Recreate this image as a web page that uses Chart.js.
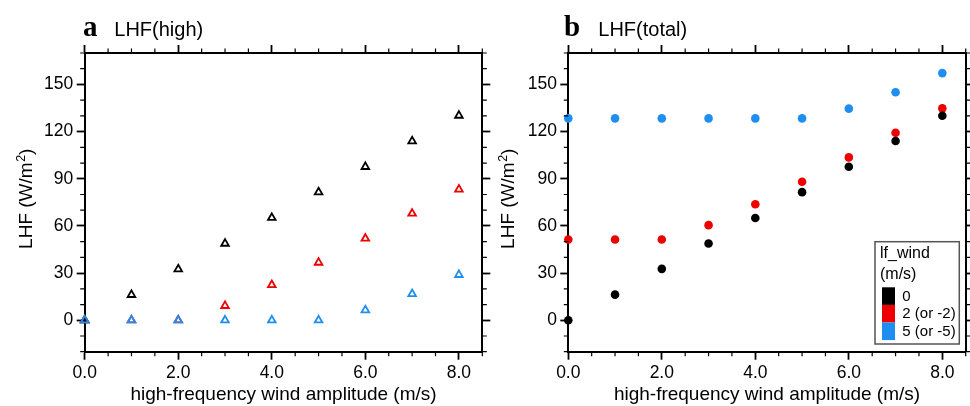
<!DOCTYPE html>
<html><head><meta charset="utf-8">
<script src="https://cdn.jsdelivr.net/npm/chart.js@4.4.1/dist/chart.umd.min.js"></script>
<style>
html,body{margin:0;padding:0;background:#fff;}
#wrap{position:relative;width:970px;height:406px;overflow:hidden;background:#fff;}
canvas{position:absolute;top:0;}
#ca{left:0;}
#cb{left:480px;}
</style></head><body>
<div id="wrap">
<canvas id="ca" width="500" height="406" style="width:500px;height:406px"></canvas>
<canvas id="cb" width="490" height="406" style="width:490px;height:406px"></canvas>
</div>
<script>
// ---------- data ----------
const windAmplitude = [0, 1, 2, 3, 4, 5, 6, 7, 8];
const lhfHighLf0 = [0, 16.2, 32.5, 48.8, 65.2, 81.5, 97.6, 113.9, 130.2];
const lhfHighLf2 = [0, 0, 0, 9.2, 22.5, 36.7, 52.0, 67.9, 83.2];
const lhfHighLf5 = [0, 0, 0, 0, 0, 0, 6.4, 16.8, 28.9];
const lhfTotalLf0 = [0, 16.3, 32.7, 48.8, 65.0, 81.5, 97.6, 114.0, 130.1];
const lhfTotalLf2 = [51.4, 51.4, 51.4, 60.5, 73.8, 88.1, 103.6, 119.3, 134.8];
const lhfTotalLf5 = [128.4, 128.4, 128.4, 128.4, 128.4, 128.4, 134.6, 145.0, 157.2];
const seriesLabels = ['0', '2 (or -2)', '5 (or -5)'];
const legendTitle = ['lf_wind', '(m/s)'];
const xTickValues = [0, 2, 4, 6, 8];
const yTickValues = [0, 30, 60, 90, 120, 150];
const xRange = [0, 8.5];
const yRange = [-20, 170];
const xMinorStep = 0.5;
const yMinorStep = 10;
const panelLetters = ['a', 'b'];
const panelTitles = ['LHF(high)', 'LHF(total)'];
const xAxisTitle = 'high-frequency wind amplitude (m/s)';
const yAxisTitleParts = ['LHF (W/m', '2', ')'];

// ---------- style ----------
const seriesColors = ['#000000', '#ee0000', '#1e8ef0'];
const drawOrder = [1, 2, 0];
const SANS = '"Liberation Sans", Arial, Helvetica, sans-serif';
const SERIF = '"Liberation Serif", "Times New Roman", serif';

const minorTicks = {
  id: 'minorTicks',
  afterDraw(chart) {
    const ctx = chart.ctx, a = chart.chartArea;
    const sx = chart.scales.x, sy = chart.scales.y;
    const L = 4.5;
    ctx.save();
    ctx.strokeStyle = '#000';
    ctx.lineWidth = 1.2;
    ctx.beginPath();
    const nx = Math.round((xRange[1] - xRange[0]) / xMinorStep);
    for (let i = 0; i <= nx; i++) {
      const v = xRange[0] + i * xMinorStep;
      if (xTickValues.some(t => Math.abs(t - v) < 1e-9)) continue;
      const p = sx.getPixelForValue(v);
      ctx.moveTo(p, a.bottom); ctx.lineTo(p, a.bottom + L);
      ctx.moveTo(p, a.top); ctx.lineTo(p, a.top - L);
    }
    const ny = Math.round((yRange[1] - yRange[0]) / yMinorStep);
    for (let i = 0; i <= ny; i++) {
      const v = yRange[0] + i * yMinorStep;
      if (yTickValues.some(t => Math.abs(t - v) < 1e-9)) continue;
      const p = sy.getPixelForValue(v);
      ctx.moveTo(a.left, p); ctx.lineTo(a.left - L, p);
      ctx.moveTo(a.right, p); ctx.lineTo(a.right + L, p);
    }
    ctx.stroke();
    ctx.restore();
  }
};

const panelTitle = {
  id: 'panelTitle',
  afterDraw(chart, args, opts) {
    const ctx = chart.ctx;
    ctx.save();
    ctx.fillStyle = '#000';
    ctx.textBaseline = 'alphabetic';
    ctx.textAlign = 'left';
    ctx.font = 'bold 29px ' + SERIF;
    ctx.fillText(opts.letter, opts.letterX, opts.baseline);
    ctx.font = '20px ' + SANS;
    ctx.fillText(opts.title, opts.titleX, opts.baseline);
    // y-axis title with superscript
    const big = '19px ' + SANS, small = '12.5px ' + SANS;
    ctx.font = big;
    const w0 = ctx.measureText(yAxisTitleParts[0]).width;
    const w2 = ctx.measureText(yAxisTitleParts[2]).width;
    ctx.font = small;
    const w1 = ctx.measureText(yAxisTitleParts[1]).width;
    const total = w0 + w1 + w2;
    ctx.translate(opts.yTitleX, opts.yTitleCenter);
    ctx.rotate(-Math.PI / 2);
    let x = -total / 2;
    ctx.font = big;
    ctx.fillText(yAxisTitleParts[0], x, 0); x += w0;
    ctx.font = small;
    ctx.fillText(yAxisTitleParts[1], x + 0.5, -7.5); x += w1 + 0.5;
    ctx.font = big;
    ctx.fillText(yAxisTitleParts[2], x, 0);
    ctx.restore();
  }
};

const boxLegend = {
  id: 'boxLegend',
  afterDraw(chart, args, opts) {
    if (!opts.show) return;
    const ctx = chart.ctx;
    const bx = opts.x, by = opts.y, bw = opts.w, bh = opts.h;
    ctx.save();
    ctx.fillStyle = '#fff';
    ctx.fillRect(bx, by, bw, bh);
    ctx.strokeStyle = '#555';
    ctx.lineWidth = 1.5;
    ctx.strokeRect(bx, by, bw, bh);
    ctx.fillStyle = '#000';
    ctx.textAlign = 'left';
    ctx.textBaseline = 'middle';
    ctx.font = '16px ' + SANS;
    ctx.fillText(legendTitle[0], bx + 5, by + 12);
    ctx.fillText(legendTitle[1], bx + 5, by + 32.5);
    ctx.font = '15px ' + SANS;
    const rowH = 17.6;
    const top = by + 45.6;
    seriesLabels.forEach((lab, i) => {
      ctx.fillStyle = seriesColors[i];
      ctx.fillRect(bx + 7, top + i * rowH, 13, rowH);
      ctx.fillStyle = '#000';
      ctx.fillText(lab, bx + 27.3, top + i * rowH + rowH / 2 + 0.5);
    });
    ctx.restore();
  }
};

function makePanel(canvasId, series, markerStyle, geom, idx) {
  const datasets = series.map((vals, i) => ({
    label: seriesLabels[i],
    data: windAmplitude.map((x, k) => ({ x: x, y: vals[k] })),
    pointStyle: markerStyle.style,
    pointRadius: markerStyle.radius,
    pointBorderWidth: markerStyle.border,
    pointBorderColor: seriesColors[i],
    pointBackgroundColor: markerStyle.filled ? seriesColors[i] : 'rgba(0,0,0,0)',
    showLine: false,
    clip: false,
    order: drawOrder[i]
  }));
  const tickFont = { family: SANS, size: 17.5 };
  const titleFont = { family: SANS, size: 19 };
  const gridOpts = { drawOnChartArea: false, drawTicks: true, tickLength: 8, tickColor: '#000', tickWidth: 1.8 };
  const borderOpts = { display: true, color: '#000', width: 2 };
  const setX = s => { s.ticks = xTickValues.map(v => ({ value: v })); };
  const setY = s => { s.ticks = yTickValues.map(v => ({ value: v })); };
  return new Chart(document.getElementById(canvasId), {
    type: 'scatter',
    data: { datasets },
    options: {
      responsive: false,
      animation: false,
      events: [],
      layout: { padding: 0 },
      plugins: {
        legend: { display: false },
        tooltip: { enabled: false },
        panelTitle: { letter: panelLetters[idx], title: panelTitles[idx], letterX: geom.letterX, titleX: geom.titleX, baseline: 36,
                      yTitleX: geom.yTitleX, yTitleCenter: 199 },
        boxLegend: geom.legend
      },
      scales: {
        x: {
          type: 'linear', position: 'bottom', min: xRange[0], max: xRange[1], z: 1,
          afterBuildTicks: setX,
          afterFit: s => { s.height = geom.bottom; },
          grid: gridOpts, border: borderOpts,
          ticks: { padding: 3, color: '#000', font: tickFont, maxRotation: 0, autoSkip: false, callback: v => Number(v).toFixed(1) },
          title: { display: true, text: xAxisTitle, color: '#000', font: titleFont, padding: { top: 0, bottom: 0 } }
        },
        x2: {
          type: 'linear', position: 'top', min: xRange[0], max: xRange[1], z: 1,
          afterBuildTicks: setX,
          afterFit: s => { s.height = geom.top; },
          grid: gridOpts, border: borderOpts,
          ticks: { display: false }
        },
        y: {
          type: 'linear', position: 'left', min: yRange[0], max: yRange[1], z: 1,
          afterBuildTicks: setY,
          afterFit: s => { s.width = geom.left; },
          grid: gridOpts, border: borderOpts,
          ticks: { padding: 3.4, color: '#000', font: tickFont, callback: v => String(v) },
          title: { display: false }
        },
        y2: {
          type: 'linear', position: 'right', min: yRange[0], max: yRange[1], z: 1,
          afterBuildTicks: setY,
          afterFit: s => { s.width = geom.right; },
          grid: gridOpts, border: borderOpts,
          ticks: { display: false }
        }
      }
    },
    plugins: [minorTicks, panelTitle, boxLegend]
  });
}

makePanel('ca', [lhfHighLf0, lhfHighLf2, lhfHighLf5],
  { style: 'triangle', radius: 4.4, border: 1.8, filled: false },
  { left: 84.7, right: 500 - 482.3, top: 53, bottom: 406 - 351.7, yTitleX: 32, letterX: 83, titleX: 114.3, legend: { show: false } }, 0);

makePanel('cb', [lhfTotalLf0, lhfTotalLf2, lhfTotalLf5],
  { style: 'circle', radius: 4.3, border: 0, filled: true },
  { left: 568.3 - 480, right: 490 - (965.7 - 480), top: 53, bottom: 406 - 351.7, yTitleX: 514 - 480, letterX: 564 - 480, titleX: 598.3 - 480,
    legend: { show: true, x: 875 - 480, y: 241.7, w: 84.3, h: 102.3 } }, 1);
</script>
</body></html>
